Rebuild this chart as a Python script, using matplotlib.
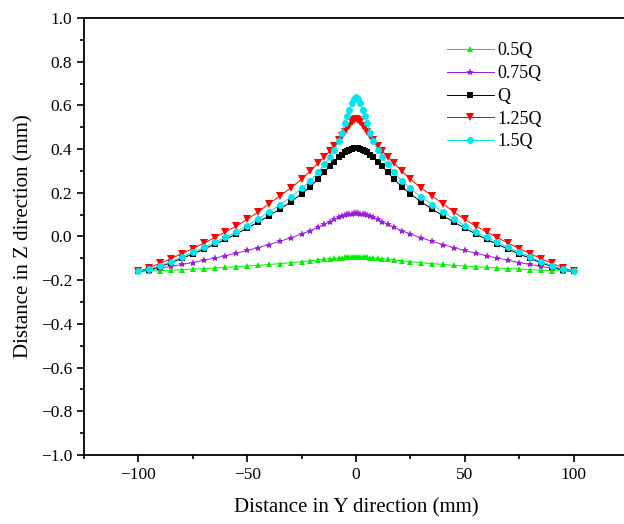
import matplotlib
matplotlib.use("Agg")
import matplotlib.pyplot as plt
from matplotlib.ticker import MultipleLocator

plt.rcParams['font.family'] = ['Liberation Serif', 'DejaVu Serif']
plt.rcParams['axes.unicode_minus'] = True

# node positions along Y (mm)
y_pos = [-100, -95, -90, -85, -80, -75, -70, -65, -60, -55, -50, -45, -40, -35, -30, -25,
         -21, -17.5, -14.5, -12, -10, -8, -6.5, -5, -4, -3, -2, -1, 0,
         1, 2, 3, 4, 5, 6.5, 8, 10, 12, 14.5, 17.5, 21,
         25, 30, 35, 40, 45, 50, 55, 60, 65, 70, 75, 80, 85, 90, 95, 100]

z_05 = [-0.160, -0.158, -0.156, -0.154, -0.152, -0.149, -0.147, -0.144, -0.141, -0.138,
        -0.135, -0.132, -0.128, -0.124, -0.120, -0.115, -0.111, -0.107, -0.104, -0.101,
        -0.099, -0.098, -0.097, -0.096, -0.095, -0.095, -0.094, -0.094, -0.094,
        -0.094, -0.094, -0.095, -0.095, -0.096, -0.097, -0.098, -0.099, -0.101, -0.104,
        -0.107, -0.111, -0.115, -0.120, -0.124, -0.128, -0.132, -0.135, -0.138, -0.141,
        -0.144, -0.147, -0.149, -0.152, -0.154, -0.156, -0.158, -0.160]

z_075 = [-0.160, -0.153, -0.145, -0.137, -0.128, -0.119, -0.109, -0.099, -0.088, -0.076,
         -0.064, -0.051, -0.037, -0.022, -0.006, 0.011, 0.027, 0.042, 0.056, 0.068,
         0.078, 0.087, 0.093, 0.098, 0.101, 0.103, 0.105, 0.106, 0.106,
         0.106, 0.105, 0.103, 0.101, 0.098, 0.093, 0.087, 0.078, 0.068, 0.056,
         0.042, 0.027, 0.011, -0.006, -0.022, -0.037, -0.051, -0.064, -0.076, -0.088,
         -0.099, -0.109, -0.119, -0.128, -0.137, -0.145, -0.153, -0.160]

z_1 = [-0.160, -0.152, -0.138, -0.120, -0.100, -0.080, -0.058, -0.036, -0.013, 0.012,
       0.038, 0.066, 0.095, 0.125, 0.158, 0.195, 0.228, 0.262, 0.295, 0.322,
       0.343, 0.362, 0.374, 0.385, 0.391, 0.396, 0.400, 0.403, 0.405,
       0.403, 0.400, 0.396, 0.391, 0.385, 0.374, 0.362, 0.343, 0.322, 0.295,
       0.262, 0.228, 0.195, 0.158, 0.125, 0.095, 0.066, 0.038, 0.012, -0.013,
       -0.036, -0.058, -0.080, -0.100, -0.120, -0.138, -0.152, -0.160]

z_125 = [-0.160, -0.142, -0.123, -0.101, -0.078, -0.055, -0.031, -0.005, 0.021, 0.048,
         0.078, 0.112, 0.150, 0.185, 0.222, 0.262, 0.300, 0.335, 0.365, 0.392,
         0.415, 0.440, 0.460, 0.480, 0.495, 0.508, 0.522, 0.533, 0.540,
         0.533, 0.522, 0.508, 0.495, 0.480, 0.460, 0.440, 0.415, 0.392, 0.365,
         0.335, 0.300, 0.262, 0.222, 0.185, 0.150, 0.112, 0.078, 0.048, 0.021,
         -0.005, -0.031, -0.055, -0.078, -0.101, -0.123, -0.142, -0.160]

z_15 = [-0.160, -0.150, -0.133, -0.115, -0.093, -0.072, -0.050, -0.027, -0.003, 0.022,
        0.050, 0.080, 0.112, 0.145, 0.180, 0.220, 0.255, 0.295, 0.330, 0.365,
        0.395, 0.435, 0.475, 0.520, 0.550, 0.580, 0.610, 0.628, 0.637,
        0.628, 0.610, 0.580, 0.550, 0.520, 0.475, 0.435, 0.395, 0.365, 0.330,
        0.295, 0.255, 0.220, 0.180, 0.145, 0.112, 0.080, 0.050, 0.022, -0.003,
        -0.027, -0.050, -0.072, -0.093, -0.115, -0.133, -0.150, -0.160]

labels = ['0.5Q', '0.75Q', 'Q', '1.25Q', '1.5Q']
colors = ['#00ee00', '#9b1fd6', '#000000', '#ff0000', '#00e5ee']
markers = ['^', '*', 's', 'v', 'o']
msizes = [5, 6, 4.5, 5.5, 5]

fig = plt.figure(figsize=(6.24, 5.24), dpi=100)
ax = fig.add_axes([84 / 624, 69 / 524, 544 / 624, 437 / 524])

for z, lab, c, m, ms in zip([z_05, z_075, z_1, z_125, z_15], labels, colors, markers, msizes):
	ax.plot(y_pos, z, color=c, marker=m, markersize=ms, linewidth=0.7,
			markeredgewidth=0, label=lab)

ax.set_xlim(-125, 125)
ax.set_ylim(-1.0, 1.0)
ax.xaxis.set_major_locator(MultipleLocator(50))
ax.xaxis.set_minor_locator(MultipleLocator(25))
ax.yaxis.set_major_locator(MultipleLocator(0.2))
ax.yaxis.set_minor_locator(MultipleLocator(0.1))
ax.tick_params(which='major', direction='out', length=5, width=1.2, labelsize=12.5)
ax.tick_params(which='minor', direction='out', length=3, width=1.2)
ax.tick_params(top=False, right=False)
for side in ['left', 'bottom', 'top']:
	ax.spines[side].set_linewidth(1.3)
ax.spines['right'].set_visible(False)

ax.set_xlabel('Distance in Y direction (mm)', fontsize=15, labelpad=11)
ax.set_ylabel('Distance in Z direction (mm)', fontsize=15, labelpad=5)

ax.legend(loc='upper left', bbox_to_anchor=(0.65, 0.965), frameon=False, fontsize=13,
		  handlelength=2.6, labelspacing=0.32, handletextpad=0.2, borderpad=0)

fig.savefig('out.png', dpi=100)
